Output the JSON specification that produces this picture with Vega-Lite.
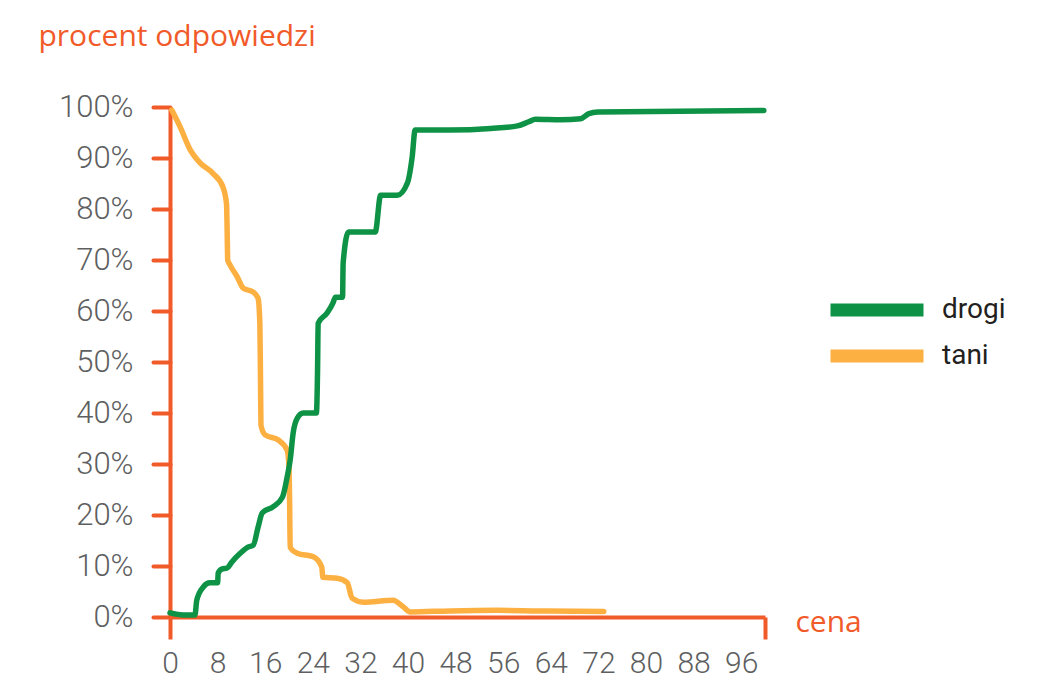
{
  "$schema": "https://vega.github.io/schema/vega-lite/v6.json",
  "description": "procent odpowiedzi vs cena - drogi / tani",
  "autosize": "none",
  "width": 595,
  "height": 510,
  "padding": {"left": 170, "top": 107, "right": 292, "bottom": 83},
  "background": "white",
  "config": {
    "view": {"stroke": null},
    "font": "Roboto"
  },
  "data": {
    "values": [
      {"cena": 0.3, "procent": 99.4, "seria": "tani"},
      {"cena": 1.7, "procent": 96.1, "seria": "tani"},
      {"cena": 3.4, "procent": 91.6, "seria": "tani"},
      {"cena": 5.1, "procent": 89.0, "seria": "tani"},
      {"cena": 7.2, "procent": 87.0, "seria": "tani"},
      {"cena": 8.9, "procent": 84.3, "seria": "tani"},
      {"cena": 9.5, "procent": 81.0, "seria": "tani"},
      {"cena": 9.6, "procent": 76.0, "seria": "tani"},
      {"cena": 9.7, "procent": 70.0, "seria": "tani"},
      {"cena": 10.1, "procent": 69.0, "seria": "tani"},
      {"cena": 11.3, "procent": 66.7, "seria": "tani"},
      {"cena": 12.3, "procent": 64.5, "seria": "tani"},
      {"cena": 14.0, "procent": 63.7, "seria": "tani"},
      {"cena": 14.8, "procent": 62.5, "seria": "tani"},
      {"cena": 15.1, "procent": 57.6, "seria": "tani"},
      {"cena": 15.2, "procent": 48.0, "seria": "tani"},
      {"cena": 15.3, "procent": 37.5, "seria": "tani"},
      {"cena": 16.0, "procent": 35.7, "seria": "tani"},
      {"cena": 18.2, "procent": 34.7, "seria": "tani"},
      {"cena": 19.7, "procent": 32.7, "seria": "tani"},
      {"cena": 20.0, "procent": 29.4, "seria": "tani"},
      {"cena": 20.1, "procent": 22.9, "seria": "tani"},
      {"cena": 20.2, "procent": 13.6, "seria": "tani"},
      {"cena": 21.4, "procent": 12.5, "seria": "tani"},
      {"cena": 24.1, "procent": 11.8, "seria": "tani"},
      {"cena": 25.5, "procent": 9.8, "seria": "tani"},
      {"cena": 25.7, "procent": 7.8, "seria": "tani"},
      {"cena": 28.1, "procent": 7.6, "seria": "tani"},
      {"cena": 29.8, "procent": 6.7, "seria": "tani"},
      {"cena": 30.6, "procent": 3.7, "seria": "tani"},
      {"cena": 32.5, "procent": 2.9, "seria": "tani"},
      {"cena": 37.5, "procent": 3.3, "seria": "tani"},
      {"cena": 39.2, "procent": 2.0, "seria": "tani"},
      {"cena": 40.4, "procent": 1.0, "seria": "tani"},
      {"cena": 47.1, "procent": 1.2, "seria": "tani"},
      {"cena": 55.0, "procent": 1.3, "seria": "tani"},
      {"cena": 62.0, "procent": 1.2, "seria": "tani"},
      {"cena": 72.9, "procent": 1.1, "seria": "tani"},
      {"cena": 0.0, "procent": 0.8, "seria": "drogi"},
      {"cena": 2.2, "procent": 0.4, "seria": "drogi"},
      {"cena": 4.2, "procent": 0.4, "seria": "drogi"},
      {"cena": 4.5, "procent": 3.3, "seria": "drogi"},
      {"cena": 5.6, "procent": 5.9, "seria": "drogi"},
      {"cena": 6.7, "procent": 6.7, "seria": "drogi"},
      {"cena": 8.0, "procent": 6.7, "seria": "drogi"},
      {"cena": 8.1, "procent": 8.6, "seria": "drogi"},
      {"cena": 8.7, "procent": 9.4, "seria": "drogi"},
      {"cena": 9.6, "procent": 9.6, "seria": "drogi"},
      {"cena": 10.4, "procent": 10.8, "seria": "drogi"},
      {"cena": 11.8, "procent": 12.5, "seria": "drogi"},
      {"cena": 13.1, "procent": 13.7, "seria": "drogi"},
      {"cena": 14.0, "procent": 14.1, "seria": "drogi"},
      {"cena": 14.8, "procent": 17.6, "seria": "drogi"},
      {"cena": 15.5, "procent": 20.4, "seria": "drogi"},
      {"cena": 17.3, "procent": 21.6, "seria": "drogi"},
      {"cena": 18.9, "procent": 23.5, "seria": "drogi"},
      {"cena": 19.7, "procent": 27.5, "seria": "drogi"},
      {"cena": 20.2, "procent": 30.8, "seria": "drogi"},
      {"cena": 20.7, "procent": 36.1, "seria": "drogi"},
      {"cena": 21.4, "procent": 39.0, "seria": "drogi"},
      {"cena": 22.4, "procent": 40.0, "seria": "drogi"},
      {"cena": 24.6, "procent": 40.0, "seria": "drogi"},
      {"cena": 24.8, "procent": 48.4, "seria": "drogi"},
      {"cena": 24.9, "procent": 57.6, "seria": "drogi"},
      {"cena": 26.4, "procent": 59.6, "seria": "drogi"},
      {"cena": 27.4, "procent": 61.6, "seria": "drogi"},
      {"cena": 27.8, "procent": 62.7, "seria": "drogi"},
      {"cena": 29.0, "procent": 62.7, "seria": "drogi"},
      {"cena": 29.1, "procent": 69.4, "seria": "drogi"},
      {"cena": 30.0, "procent": 75.5, "seria": "drogi"},
      {"cena": 34.5, "procent": 75.5, "seria": "drogi"},
      {"cena": 35.4, "procent": 82.7, "seria": "drogi"},
      {"cena": 38.2, "procent": 82.7, "seria": "drogi"},
      {"cena": 39.9, "procent": 85.1, "seria": "drogi"},
      {"cena": 40.7, "procent": 90.2, "seria": "drogi"},
      {"cena": 41.2, "procent": 95.5, "seria": "drogi"},
      {"cena": 47.1, "procent": 95.5, "seria": "drogi"},
      {"cena": 53.9, "procent": 95.8, "seria": "drogi"},
      {"cena": 58.4, "procent": 96.3, "seria": "drogi"},
      {"cena": 60.3, "procent": 97.1, "seria": "drogi"},
      {"cena": 61.4, "procent": 97.6, "seria": "drogi"},
      {"cena": 65.7, "procent": 97.5, "seria": "drogi"},
      {"cena": 69.0, "procent": 97.7, "seria": "drogi"},
      {"cena": 70.4, "procent": 98.7, "seria": "drogi"},
      {"cena": 71.9, "procent": 99.0, "seria": "drogi"},
      {"cena": 99.8, "procent": 99.3, "seria": "drogi"}
    ]
  },
  "mark": {"type": "line", "strokeWidth": 5.5, "strokeCap": "round", "interpolate": "monotone"},
  "encoding": {
    "x": {
      "field": "cena",
      "type": "quantitative",
      "scale": {"domain": [0, 100], "nice": false, "zero": false},
      "axis": {
        "values": [0, 8, 16, 24, 32, 40, 48, 56, 64, 72, 80, 88, 96, 100],
        "labelExpr": "datum.value == 100 ? '' : datum.label",
        "grid": false,
        "domainColor": "#F15A29",
        "domainWidth": 4,
        "tickColor": "#F15A29",
        "tickWidth": 4,
        "tickSize": 22,
        "tickOpacity": {"condition": {"test": "datum.value == 0 || datum.value == 100", "value": 1}, "value": 0},
        "labelColor": "#5E5F61",
        "labelFont": "Roboto",
        "labelFontWeight": 300,
        "labelFontSize": 30,
        "labelPadding": 9,
        "labelFlush": false,
        "labelOverlap": false,
        "title": "cena",
        "titleColor": "#F15A29",
        "titleFont": "Open Sans",
        "titleFontWeight": "normal",
        "titleFontSize": 30,
        "titleAlign": "left",
        "titleAnchor": null,
        "titleBaseline": "alphabetic",
        "titleX": 625,
        "titleY": 14
      }
    },
    "y": {
      "field": "procent",
      "type": "quantitative",
      "scale": {"domain": [0, 100], "nice": false},
      "axis": {
        "values": [0, 10, 20, 30, 40, 50, 60, 70, 80, 90, 100],
        "labelExpr": "datum.value + '%'",
        "grid": false,
        "domainColor": "#F15A29",
        "domainWidth": 4,
        "tickColor": "#F15A29",
        "tickWidth": 4,
        "tickSize": 17,
        "tickCap": "round",
        "labelColor": "#5E5F61",
        "labelFont": "Roboto",
        "labelFontWeight": 300,
        "labelFontSize": 31,
        "labelPadding": 20,
        "labelFlush": false,
        "labelOverlap": false,
        "title": "procent odpowiedzi",
        "titleColor": "#F15A29",
        "titleFont": "Open Sans",
        "titleFontWeight": "normal",
        "titleFontSize": 30,
        "titleAngle": 0,
        "titleAlign": "left",
        "titleAnchor": null,
        "titleBaseline": "alphabetic",
        "titleX": -132,
        "titleY": -62
      }
    },
    "color": {
      "field": "seria",
      "type": "nominal",
      "scale": {"domain": ["drogi", "tani"], "range": ["#0E9346", "#FDB042"]},
      "legend": {
        "title": null,
        "orient": "none",
        "legendX": 691,
        "legendY": 187,
        "symbolType": "M-5,0L5,0",
        "symbolSize": 346,
        "symbolStrokeWidth": 13,
        "symbolOpacity": 1,
        "labelFont": "Roboto",
        "labelFontSize": 28,
        "labelColor": "#231F20",
        "labelOffset": 49,
        "rowPadding": -6
      }
    }
  }
}
